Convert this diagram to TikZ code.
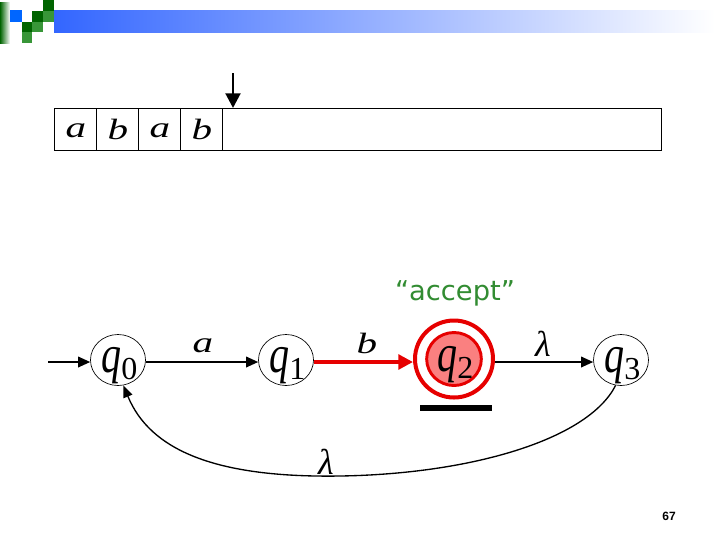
\documentclass[tikz,border=0pt]{standalone}
\usepackage{graphicx}
\usepackage{fontspec}
\setmainfont{Liberation Serif}
\newfontfamily\accfont{DejaVu Sans}
\newfontfamily\numfont{Liberation Sans}
\usetikzlibrary{arrows.meta,shapes.geometric}
\definecolor{hdrblue}{RGB}{51,102,255}
\definecolor{dkgreen}{RGB}{0,100,0}
\definecolor{ltgreen}{RGB}{56,150,56}
\definecolor{sqblue}{RGB}{0,102,255}
\definecolor{accred}{RGB}{230,0,0}
\definecolor{accfill}{RGB}{250,128,128}
\definecolor{accgreen}{RGB}{50,140,50}
\tikzset{
  state/.style={ellipse,draw,line width=0.5pt,minimum width=55*0.75pt,minimum height=51*0.75pt,inner sep=0pt,text height=18pt,text depth=0pt},
  sym/.style={font=\fontsize{22}{24}\selectfont\itshape},
  lam/.style={font=\fontsize{27}{28}\selectfont\itshape},
  edge/.style={line width=1pt,-{Triangle[length=9pt,width=8pt]}},
  cellline/.style={line width=0.6pt}
}
\newcommand{\qs}[1]{\hspace*{2pt}\scalebox{0.75}[1]{\fontsize{40}{40}\selectfont\textit{q}}\raisebox{-5.5pt}{\fontsize{24}{24}\selectfont #1}}
\newcommand{\wl}[1]{\scalebox{1.4}[1]{\itshape #1}}
\begin{document}
\begin{tikzpicture}[x=0.75pt,y=-0.75pt]
\useasboundingbox (0,0) rectangle (720,540);
% header
\shade[left color=hdrblue,right color=white] (54,10) rectangle (715,32);
\shade[left color=dkgreen,right color=white] (0,2) rectangle (10,43);
\fill[dkgreen] (43,0) rectangle (54,11);
\fill[sqblue] (10,10) rectangle (22,22);
\fill[dkgreen] (32,11) rectangle (43,22);
\fill[ltgreen] (43,11) rectangle (54,22);
\fill[dkgreen] (22,22) rectangle (32,32);
\fill[ltgreen] (32,22) rectangle (43,32);
\fill[ltgreen] (22,32) rectangle (32,43);
% tape
\node[draw,cellline,minimum width=607*0.75pt,minimum height=42*0.75pt,inner sep=0pt] (tape) at (357.5,129) {};
\foreach \x in {96,138,180,222} \draw[cellline] (\x,108) -- (\x,150);
\node[sym] (c1) at (76,131) {\wl{a}};
\node[sym] (c2) at (118,129) {\wl{b}};
\node[sym] (c3) at (160,131) {\wl{a}};
\node[sym] (c4) at (202,129) {\wl{b}};
\coordinate (headtop) at (233,73);
\coordinate (headbot) at (233,108);
\draw[line width=2.2pt,-{Triangle[length=11pt,width=11pt]}] (headtop) -- (headbot);
% states
\node[state] (q0) at (118,360) {\qs{0}};
\node[state] (q1) at (286,360) {\qs{1}};
\node[ellipse,draw=accred,line width=3pt,minimum width=78*0.75pt,minimum height=77*0.75pt] (q2o) at (454,359) {};
\node[state,draw=accred,fill=accfill,line width=2.2pt,minimum width=54*0.75pt,minimum height=53*0.75pt] (q2) at (454,359) {\qs{2}};
\node[state] (q3) at (621,360) {\qs{3}};
\node[font=\accfont\fontsize{20.5}{22}\selectfont,text=accgreen] (acc) at (455,293) {“accept”};
\coordinate (start) at (48,362);
\draw[edge] (start) -- (q0.west|-start);
\draw[edge] (q0.east|-start) -- (q1.west|-start);
\node[sym] (la) at (203,346) {\wl{a}};
\draw[accred,line width=3pt,-{Triangle[length=11pt,width=11pt]}] (q1.east|-start) -- (q2o.west|-start);
\node[sym] (lb) at (367,343) {\wl{b}};
\draw[edge] (q2o.east|-start) -- (q3.west|-start);
\node[lam] (l1) at (543,344) {λ};
\draw[line width=1pt,-{Triangle[length=9pt,width=7pt]}] (q3.258) .. controls (588,440) and (470,474) .. (340,476) .. controls (215,478) and (150,450) .. (q0.282);
\node[lam] (l2) at (326,462) {λ};
\coordinate (barl) at (420,408);
\coordinate (barr) at (492,408);
\draw[line width=4.5pt] (barl) -- (barr);
\node[font=\numfont\bfseries\fontsize{9}{10}\selectfont] (pg) at (669,516) {67};
\end{tikzpicture}
\end{document}
